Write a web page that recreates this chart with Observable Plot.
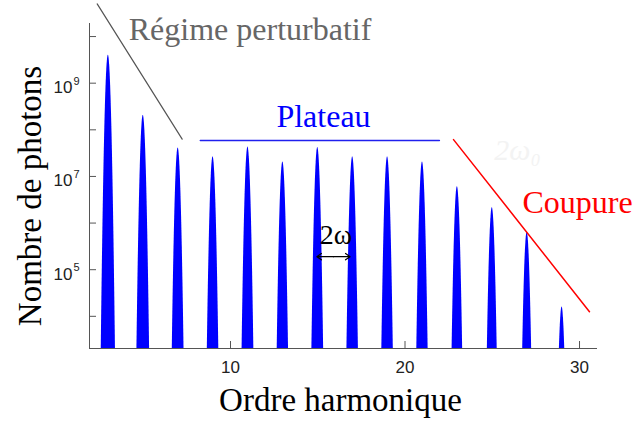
<!DOCTYPE html>
<html><head><meta charset="utf-8">
<script src="https://cdn.jsdelivr.net/npm/d3@7"></script>
<script src="https://cdn.jsdelivr.net/npm/@observablehq/plot@0.6"></script>
<style>body{margin:0;background:#fff}</style>
</head><body><div id="chart"></div>
<script>
// Harmonic orders and peak heights (log10 of photon number)
const harmonics = [3, 5, 7, 9, 11, 13, 15, 17, 19, 21, 23, 25, 27, 29];
const peakLog10 = [9.60, 8.31, 7.61, 7.42, 7.63, 7.31, 7.62, 7.42, 7.42, 7.31, 6.78, 6.33, 5.80, 4.20];
const peakSigma = 0.0756; // spectral width of each harmonic line (order units)

const xTicks = [10, 20, 30];
const yTicks = [1e4, 1e5, 1e6, 1e7, 1e8, 1e9, 1e10];
const yLabeled = [1e5, 1e7, 1e9];
const xDomain = [1.92, 31.03];
const yDomain = [10 ** 3.31, 10 ** 10.28];

// Annotation guide lines
const perturbLine = [{x: 2.36, y: 10 ** 10.70}, {x: 7.23, y: 10 ** 7.80}];
const plateauLine = [{x: 8.27, y: 10 ** 7.77}, {x: 21.97, y: 10 ** 7.77}];
const cutoffLine = [{x: 22.78, y: 10 ** 7.79}, {x: 30.57, y: 10 ** 4.10}];
const arrowMid = 15.9;
const spacingArrow = [{x1: arrowMid, x2: 14.95, y: 10 ** 5.28}, {x1: arrowMid, x2: 16.85, y: 10 ** 5.28}];

const labels = [
  {text: "Régime perturbatif", x: 11.12, y: 10 ** 10.14, color: "#666666", size: 32, style: "normal"},
  {text: "Plateau", x: 15.33, y: 10 ** 8.27, color: "#0000ff", size: 32, style: "normal"},
  {text: "Coupure", x: 29.89, y: 10 ** 6.44, color: "#ff0000", size: 32, style: "normal"},
  {text: "2ω", x: 16.05, y: 10 ** 5.74, color: "#000000", size: 28, style: "normal"},
  {text: "2ω₀", x: 26.45, y: 10 ** 7.56, color: "#f3f3f3", size: 30, style: "italic"}
];

// Line profile of each harmonic peak
const profile = [];
harmonics.forEach((h, i) => {
  for (let k = -90; k <= 90; k++) {
    const dx = k * 0.005;
    const lv = peakLog10[i] - dx * dx / (2 * peakSigma * peakSigma * Math.LN10);
    if (lv > 2.5) profile.push({h, x: h + dx, y: 10 ** lv});
  }
});
const base = 10 ** 2.5;

const serif = "Liberation Serif";
const sans = "Liberation Sans";
const W = 637, H = 421, mL = 89, mR = 40, mT = 23, mB = 73;

const chart = Plot.plot({
  width: W, height: H,
  marginLeft: mL, marginRight: mR, marginTop: mT, marginBottom: mB,
  style: {fontFamily: sans, fontSize: "16px", background: "#fff", color: "#222", overflow: "visible"},
  x: {domain: xDomain, axis: null},
  y: {type: "log", domain: yDomain, axis: null},
  marks: [
    Plot.areaY(profile, {x: "x", y1: base, y2: "y", z: "h", fill: "#0000ff", clip: true}),
    // axes
    Plot.ruleX([xDomain[0]], {stroke: "#555"}),
    Plot.ruleY([yDomain[0]], {stroke: "#555"}),
    Plot.ruleY(yTicks, {stroke: "#555", insetRight: (W - mL - mR) - 7}),
    Plot.ruleX(xTicks, {stroke: "#555", insetTop: (H - mT - mB) - 7}),
    Plot.text(yLabeled, {y: d => d, text: () => "10", frameAnchor: "left", textAnchor: "end", dx: -17, dy: 4.5, fontFamily: sans, fontSize: 17, fill: "#222"}),
    Plot.text(yLabeled, {y: d => d, text: d => String(Math.round(Math.log10(d))), frameAnchor: "left", textAnchor: "start", dx: -16, dy: -2, fontFamily: sans, fontSize: 11, fill: "#222"}),
    Plot.text(xTicks, {x: d => d, text: d => String(d), frameAnchor: "bottom", textAnchor: "middle", lineAnchor: "top", dy: 12, fontFamily: sans, fontSize: 17, fill: "#222"}),
    // axis titles
    Plot.text(["Nombre de photons"], {frameAnchor: "left", textAnchor: "middle", lineAnchor: "middle", dx: -59, dy: 10, rotate: -90, fontFamily: serif, fontSize: 33, fill: "#000"}),
    Plot.text(["Ordre harmonique"], {frameAnchor: "bottom", textAnchor: "middle", lineAnchor: "middle", dx: -3, dy: 52, fontFamily: serif, fontSize: 33, fill: "#000"}),
    // annotations
    Plot.line(perturbLine, {x: "x", y: "y", stroke: "#555", strokeWidth: 1.2}),
    Plot.line(plateauLine, {x: "x", y: "y", stroke: "#2020ee", strokeWidth: 1.5}),
    Plot.line(cutoffLine, {x: "x", y: "y", stroke: "#ff0000", strokeWidth: 1.5}),
    Plot.arrow(spacingArrow, {x1: "x1", x2: "x2", y1: "y", y2: "y", stroke: "#000", strokeWidth: 1.2, headLength: 7, headAngle: 70}),
    ...labels.map(l => Plot.text([l], {x: "x", y: "y", text: "text", fill: l.color, fontSize: l.size, fontFamily: serif, fontStyle: l.style}))
  ]
});
document.getElementById("chart").appendChild(chart);
</script>
</body></html>
